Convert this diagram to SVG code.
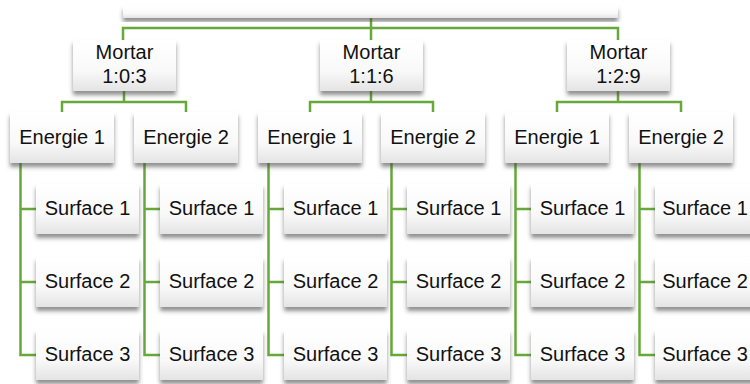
<svg xmlns="http://www.w3.org/2000/svg" width="750" height="384" viewBox="0 0 750 384">
  <defs>
    <linearGradient id="boxFill" x1="0" y1="0" x2="0" y2="1">
      <stop offset="0" stop-color="#ffffff"/>
      <stop offset="0.6" stop-color="#f9f9f9"/>
      <stop offset="1" stop-color="#e4e4e4"/>
    </linearGradient>
    <filter id="shadow" x="-10%" y="-20%" width="120%" height="150%">
      <feDropShadow dx="0" dy="4" stdDeviation="2.2" flood-color="#444" flood-opacity="0.6"/>
    </filter>
  </defs>
  <style>
    .box { fill: url(#boxFill); filter: url(#shadow); }
    .lbl { font-family: "Liberation Sans", Arial, sans-serif; font-size: 20px; fill: #111; text-anchor: middle; }
    .link { fill: none; stroke: #67a83a; stroke-width: 2.5; }
  </style>
  <rect width="750" height="384" fill="#ffffff"/>

  <!-- connectors -->
  <g id="connectors" class="link">
    <!-- root to mortar boxes -->
    <path d="M123,40 V28 H618 V40 M371,18 V40"/>
    <!-- mortar to energie -->
    <path d="M124,91 V102 M62,112 V102 H186 V112"/>
    <path d="M371,91 V102 M310,112 V102 H433 V112"/>
    <path d="M618,91 V102 M557,112 V102 H681 V112"/>
    <!-- energie to surfaces -->
    <path d="M20.5,163 V355 H36 M20.5,209 H36 M20.5,282 H36"/>
    <path d="M144.5,163 V355 H160 M144.5,209 H160 M144.5,282 H160"/>
    <path d="M268.5,163 V355 H284 M268.5,209 H284 M268.5,282 H284"/>
    <path d="M391.5,163 V355 H407 M391.5,209 H407 M391.5,282 H407"/>
    <path d="M515.5,163 V355 H531 M515.5,209 H531 M515.5,282 H531"/>
    <path d="M639.5,163 V355 H655 M639.5,209 H655 M639.5,282 H655"/>
  </g>

  <!-- root -->
  <g id="root"><rect class="box" x="123" y="6" width="495" height="12"/></g>

  <!-- mortar -->
  <g id="mortar-103"><rect class="box" x="73" y="40" width="103" height="51"/><text class="lbl" x="124.5" y="59">Mortar</text><text class="lbl" x="124.5" y="83">1:0:3</text></g>
  <g id="mortar-116"><rect class="box" x="320" y="40" width="103" height="51"/><text class="lbl" x="371.5" y="59">Mortar</text><text class="lbl" x="371.5" y="83">1:1:6</text></g>
  <g id="mortar-129"><rect class="box" x="567" y="40" width="103" height="51"/><text class="lbl" x="618.5" y="59">Mortar</text><text class="lbl" x="618.5" y="83">1:2:9</text></g>

  <!-- energie -->
  <g id="e1-a"><rect class="box" x="10" y="112" width="104" height="51"/><text class="lbl" x="62" y="144">Energie 1</text></g>
  <g id="e2-a"><rect class="box" x="134" y="112" width="104" height="51"/><text class="lbl" x="186" y="144">Energie 2</text></g>
  <g id="e1-b"><rect class="box" x="258" y="112" width="104" height="51"/><text class="lbl" x="310" y="144">Energie 1</text></g>
  <g id="e2-b"><rect class="box" x="381" y="112" width="104" height="51"/><text class="lbl" x="433" y="144">Energie 2</text></g>
  <g id="e1-c"><rect class="box" x="505" y="112" width="104" height="51"/><text class="lbl" x="557" y="144">Energie 1</text></g>
  <g id="e2-c"><rect class="box" x="629" y="112" width="104" height="51"/><text class="lbl" x="681" y="144">Energie 2</text></g>

  <!-- surfaces -->
  <g id="s-a1-1"><rect class="box" x="36" y="184" width="103" height="50"/><text class="lbl" x="87.5" y="215">Surface 1</text></g>
  <g id="s-a1-2"><rect class="box" x="36" y="257" width="103" height="50"/><text class="lbl" x="87.5" y="288">Surface 2</text></g>
  <g id="s-a1-3"><rect class="box" x="36" y="330" width="103" height="50"/><text class="lbl" x="87.5" y="361">Surface 3</text></g>
  <g id="s-a2-1"><rect class="box" x="160" y="184" width="103" height="50"/><text class="lbl" x="211.5" y="215">Surface 1</text></g>
  <g id="s-a2-2"><rect class="box" x="160" y="257" width="103" height="50"/><text class="lbl" x="211.5" y="288">Surface 2</text></g>
  <g id="s-a2-3"><rect class="box" x="160" y="330" width="103" height="50"/><text class="lbl" x="211.5" y="361">Surface 3</text></g>
  <g id="s-b1-1"><rect class="box" x="284" y="184" width="103" height="50"/><text class="lbl" x="335.5" y="215">Surface 1</text></g>
  <g id="s-b1-2"><rect class="box" x="284" y="257" width="103" height="50"/><text class="lbl" x="335.5" y="288">Surface 2</text></g>
  <g id="s-b1-3"><rect class="box" x="284" y="330" width="103" height="50"/><text class="lbl" x="335.5" y="361">Surface 3</text></g>
  <g id="s-b2-1"><rect class="box" x="407" y="184" width="103" height="50"/><text class="lbl" x="458.5" y="215">Surface 1</text></g>
  <g id="s-b2-2"><rect class="box" x="407" y="257" width="103" height="50"/><text class="lbl" x="458.5" y="288">Surface 2</text></g>
  <g id="s-b2-3"><rect class="box" x="407" y="330" width="103" height="50"/><text class="lbl" x="458.5" y="361">Surface 3</text></g>
  <g id="s-c1-1"><rect class="box" x="531" y="184" width="103" height="50"/><text class="lbl" x="582.5" y="215">Surface 1</text></g>
  <g id="s-c1-2"><rect class="box" x="531" y="257" width="103" height="50"/><text class="lbl" x="582.5" y="288">Surface 2</text></g>
  <g id="s-c1-3"><rect class="box" x="531" y="330" width="103" height="50"/><text class="lbl" x="582.5" y="361">Surface 3</text></g>
  <g id="s-c2-1"><rect class="box" x="655" y="184" width="103" height="50"/><text class="lbl" x="705" y="215">Surface 1</text></g>
  <g id="s-c2-2"><rect class="box" x="655" y="257" width="103" height="50"/><text class="lbl" x="705" y="288">Surface 2</text></g>
  <g id="s-c2-3"><rect class="box" x="655" y="330" width="103" height="50"/><text class="lbl" x="705" y="361">Surface 3</text></g>
</svg>
